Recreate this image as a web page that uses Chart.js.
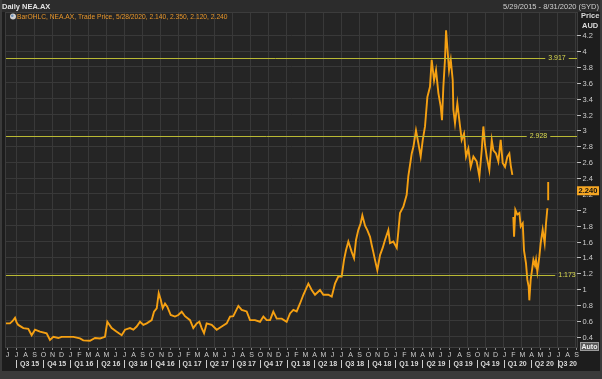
<!DOCTYPE html>
<html><head><meta charset="utf-8">
<script src="https://cdn.jsdelivr.net/npm/chart.js@4/dist/chart.umd.min.js"></script>
<style>html,body{margin:0;padding:0;background:#1c1c1c;overflow:hidden}</style>
</head><body><canvas id="c" width="602" height="379"></canvas>
<script>
// ---- DATA ----
// x = months since 1 Jun 2015 (fractional), y = trade price (AUD); null = gap between bars
const monthIndex = [
 -0.11,0.33,0.63,0.89,1.07,1.25,1.81,2.36,2.73,3.10,3.65,4.39,4.76,5.13,5.68,6.05,6.61,7.35,8.08,8.45,
 9.19,9.75,10.30,10.85,11.11,11.59,12.15,12.70,13.07,13.62,13.99,14.36,14.73,15.10,15.47,16.02,16.28,16.58,16.80,17.02,
 17.24,17.50,17.75,18.13,18.60,18.97,19.35,19.71,20.27,20.63,21.01,21.30,21.56,21.82,22.11,22.67,23.22,23.78,24.33,24.70,
 25.06,25.62,25.99,26.54,26.91,27.46,28.02,28.39,28.76,29.13,29.49,29.87,30.42,30.97,31.34,31.71,32.08,32.45,
 32.82,33.37,33.74,34.11,34.66,35.03,35.58,35.96,36.32,36.69,37.06,37.32,37.54,37.80,38.17,38.43,38.65,38.90,39.17,39.35,
 39.65,39.90,40.20,40.38,40.56,40.75,41.01,41.31,41.60,41.86,42.23,42.41,42.78,43.16,43.33,43.52,43.89,44.26,
 44.44,44.82,45.00,45.29,45.55,45.81,46.04,46.29,46.55,46.84,47.03,47.29,47.51,47.77,48.03,48.17,48.32,48.50,48.62,48.76,
 48.95,49.14,49.36,49.43,49.61,49.87,50.17,50.35,50.61,50.83,51.09,51.35,51.65,52.01,52.31,52.57,52.75,52.93,53.12,53.41,
 53.68,53.86,54.15,54.41,54.67,54.89,55.15,55.41,55.63,55.78,55.96,56.01,56.07,56.15,56.29,56.51,56.74,56.89,57.11,57.25,
 57.47,57.62,57.77,57.84,57.99,58.14,58.29,58.47,58.58,58.73,58.95,59.10,59.32,59.54,59.69,59.84,59.88,59.93,59.93
];
const price = [
 0.57,0.57,0.60,0.64,0.58,0.55,0.51,0.50,0.42,0.49,0.465,0.445,0.36,0.40,0.385,0.40,0.40,0.40,0.38,0.355,
 0.35,0.385,0.38,0.40,0.59,0.51,0.465,0.42,0.49,0.51,0.49,0.53,0.59,0.55,0.57,0.61,0.717,0.76,0.95,0.87,
 0.76,0.82,0.78,0.675,0.655,0.675,0.717,0.66,0.61,0.51,0.57,0.59,0.51,0.445,0.57,0.55,0.49,0.53,0.57,0.655,
 0.66,0.79,0.74,0.72,0.61,0.61,0.59,0.655,0.61,0.61,0.717,0.63,0.63,0.59,0.695,0.74,0.72,0.82,
 0.93,1.07,0.99,0.93,0.99,0.93,0.93,0.906,1.07,1.16,1.16,1.37,1.49,1.60,1.47,1.39,1.62,1.745,1.83,1.93,
 1.80,1.745,1.66,1.56,1.47,1.37,1.24,1.43,1.52,1.62,1.745,1.58,1.60,1.52,1.72,1.96,2.04,2.19,
 2.42,2.71,2.79,3.00,2.84,2.67,2.88,3.05,3.42,3.55,3.89,3.63,3.76,3.47,3.30,3.13,3.55,3.89,4.26,4.05,
 3.76,3.89,3.63,3.26,3.09,3.34,3.05,2.88,2.96,2.67,2.77,2.54,2.67,2.61,2.42,2.75,3.05,2.82,2.67,2.50,
 2.88,2.75,2.71,2.61,2.88,2.59,2.54,2.67,2.71,2.56,2.44,null,1.91,1.66,2.00,1.94,1.96,1.79,1.83,1.49,
 1.33,1.12,1.03,0.86,1.12,1.24,1.37,1.30,1.37,1.22,1.41,1.58,1.75,1.58,1.83,2.02,null,2.12,2.35
];
const monthLetters = 'JJASONDJFMAMJJASONDJFMAMJJASONDJFMAMJJASONDJFMAMJJASONDJFMAMJJAS'.split('');
const quarterLabels = ['Q3 15','Q4 15','Q1 16','Q2 16','Q3 16','Q4 16','Q1 17','Q2 17','Q3 17','Q4 17',
 'Q1 18','Q2 18','Q3 18','Q4 18','Q1 19','Q2 19','Q3 19','Q4 19','Q1 20','Q2 20','Q3 20'];
const yTickValues = [0.4,0.6,0.8,1,1.2,1.4,1.6,1.8,2,2.2,2.4,2.6,2.8,3,3.2,3.4,3.6,3.8,4,4.2];
const levelValues = [3.917, 2.928, 1.173];
const levelLabels = ['3.917', '2.928', '1.173'];
const lastPrice = 2.24;
const titleText = 'Daily NEA.AX';
const rangeText = '5/29/2015 - 8/31/2020 (SYD)';
const legendText = 'BarOHLC, NEA.AX, Trade Price, 5/28/2020, 2.140, 2.350, 2.120, 2.240';

// ---- STYLE ----
const FONT = '"Liberation Sans", Arial, sans-serif';
const C = { bg:'#1d1d1d', frame:'#3a3a3a', title:'#2c2c2c', plot:'#252525', grid:'#393939',
  line:'#f5a012', legend:'#e8962a', level:'#b9b934', levelText:'#dcdc50', text:'#cdcdcd' };
const levelLabelCenters = [557, 538.5, 567];   // label placement (px) for each level line

const points = monthIndex.map((m,i)=>({x:m, y:price[i]}));

const deco = {
  id:'deco',
  beforeDraw(chart){
    const ctx = chart.ctx, a = chart.chartArea;
    ctx.save();
    ctx.fillStyle = C.bg; ctx.fillRect(0,0,602,379);
    ctx.fillStyle = C.frame; ctx.fillRect(0,0,2,379); ctx.fillRect(600,0,2,379); ctx.fillRect(0,371,602,8);
    ctx.fillStyle = C.title; ctx.fillRect(2,0,598,12);
    ctx.fillStyle = C.plot; ctx.fillRect(a.left, a.top, a.right-a.left, a.bottom-a.top);
    ctx.strokeStyle = '#3c3c3c'; ctx.lineWidth = 1;
    ctx.strokeRect(a.left-0.5, a.top-0.5, a.right-a.left+1, a.bottom-a.top+1);
    ctx.restore();
  },
  afterDatasetsDraw(chart){
    const ctx = chart.ctx, a = chart.chartArea, y = chart.scales.y;
    ctx.save();
    ctx.font = '7px ' + FONT; ctx.textBaseline = 'middle'; ctx.textAlign = 'center';
    levelValues.forEach((v,i)=>{
      const py = Math.round(y.getPixelForValue(v)) + 0.5;
      const w = ctx.measureText(levelLabels[i]).width + 6;
      const cx = levelLabelCenters[i];
      ctx.strokeStyle = C.level; ctx.lineWidth = 1;
      ctx.beginPath(); ctx.moveTo(a.left, py); ctx.lineTo(cx - w/2, py);
      ctx.moveTo(Math.min(cx + w/2, a.right), py); ctx.lineTo(a.right, py); ctx.stroke();
      ctx.fillStyle = C.levelText; ctx.fillText(levelLabels[i], cx, py);
    });
    ctx.restore();
  },
  afterDraw(chart){
    const ctx = chart.ctx, a = chart.chartArea, x = chart.scales.x, y = chart.scales.y;
    ctx.save();
    // title bar
    ctx.textBaseline = 'middle';
    ctx.fillStyle = '#e2e2e2'; ctx.font = 'bold 7.5px ' + FONT; ctx.textAlign = 'left';
    ctx.fillText(titleText, 2, 6.5);
    ctx.font = '7.5px ' + FONT; ctx.textAlign = 'right'; ctx.fillStyle = '#cfcfcf';
    ctx.fillText(rangeText, 599, 6.5);
    // legend
    ctx.fillStyle = '#d0d0d0'; ctx.beginPath(); ctx.arc(13, 16.5, 3, 0, Math.PI*2); ctx.fill();
    ctx.fillStyle = '#6d8fb5'; ctx.beginPath(); ctx.arc(12.3, 15.8, 1.3, 0, Math.PI*2); ctx.fill();
    ctx.fillStyle = C.legend; ctx.font = '6.7px ' + FONT; ctx.textAlign = 'left';
    ctx.fillText(legendText, 17, 17);
    // right axis
    ctx.fillStyle = '#dcdcdc'; ctx.font = 'bold 7.5px ' + FONT; ctx.textAlign = 'left';
    ctx.fillText('Price', 581, 16); ctx.fillText('AUD', 582, 25.5);
    ctx.font = '7.5px ' + FONT; ctx.fillStyle = C.text; ctx.strokeStyle = '#bdbdbd';
    yTickValues.forEach(v=>{
      const py = Math.round(y.getPixelForValue(v)) + 0.5;
      ctx.beginPath(); ctx.moveTo(577, py); ctx.lineTo(581, py); ctx.stroke();
      ctx.fillText(String(v), 582.5, py);
    });
    // last price box
    const lp = y.getPixelForValue(lastPrice);
    ctx.fillStyle = '#f5a623'; ctx.fillRect(577, lp-4.5, 22, 9);
    ctx.fillStyle = '#111'; ctx.font = 'bold 7.5px ' + FONT; ctx.textAlign = 'center';
    ctx.fillText(lastPrice.toFixed(3), 588, lp+0.5);
    // bottom axis
    ctx.font = '7px ' + FONT; ctx.fillStyle = C.text; ctx.strokeStyle = '#8a8a8a';
    monthLetters.forEach((l,k)=>{
      const px = Math.round(x.getPixelForValue(k)) + 0.5;
      ctx.beginPath(); ctx.moveTo(px, a.bottom+1); ctx.lineTo(px, a.bottom+3); ctx.stroke();
      ctx.fillText(l, px, 355.5);
    });
    ctx.font = 'bold 7px ' + FONT; ctx.strokeStyle = C.text; ctx.fillStyle = '#dadada';
    quarterLabels.forEach((q,i)=>{
      const k0 = 1 + 3*i;
      const px0 = Math.round(x.getPixelForValue(k0)) + 0.5;
      ctx.beginPath(); ctx.moveTo(px0, 360); ctx.lineTo(px0, 368); ctx.stroke();
      let cx = x.getPixelForValue(k0 + 1.5);
      const w = ctx.measureText(q).width;
      if (cx + w/2 > a.right) cx = a.right - w/2;
      ctx.fillText(q, cx, 364.5);
    });
    // Auto button
    ctx.fillStyle = '#5a5a5a'; ctx.fillRect(580, 342, 19, 9);
    ctx.strokeStyle = '#9a9a9a'; ctx.strokeRect(580.5, 342.5, 18, 8);
    ctx.fillStyle = '#f0f0f0'; ctx.font = 'bold 7px ' + FONT; ctx.textAlign = 'center';
    ctx.fillText('Auto', 589.5, 347);
    ctx.restore();
  }
};

new Chart(document.getElementById('c'), {
  type:'line',
  data:{datasets:[{data:points, borderColor:C.line, borderWidth:1.9, pointRadius:0, tension:0, spanGaps:false, fill:false}]},
  options:{
    responsive:false, animation:false, events:[],
    layout:{padding:{left:6, top:13, right:25, bottom:32}},
    plugins:{legend:{display:false}, tooltip:{enabled:false}},
    scales:{
      x:{type:'linear', min:-0.11, max:63.12, ticks:{display:false}, border:{display:false},
         grid:{drawTicks:false, lineWidth:1, color:c => (c.tick && c.tick.value % 2 === 1) ? C.grid : 'rgba(0,0,0,0)'},
         afterBuildTicks:s => { s.ticks = monthLetters.map((_,k)=>({value:k})); }},
      y:{type:'linear', position:'right', min:0.272, max:4.479, ticks:{display:false}, border:{display:false},
         grid:{drawTicks:false, lineWidth:1, color:C.grid},
         afterBuildTicks:s => { s.ticks = yTickValues.map(v=>({value:v})); }}
    }
  },
  plugins:[deco]
});
</script>
</body></html>
